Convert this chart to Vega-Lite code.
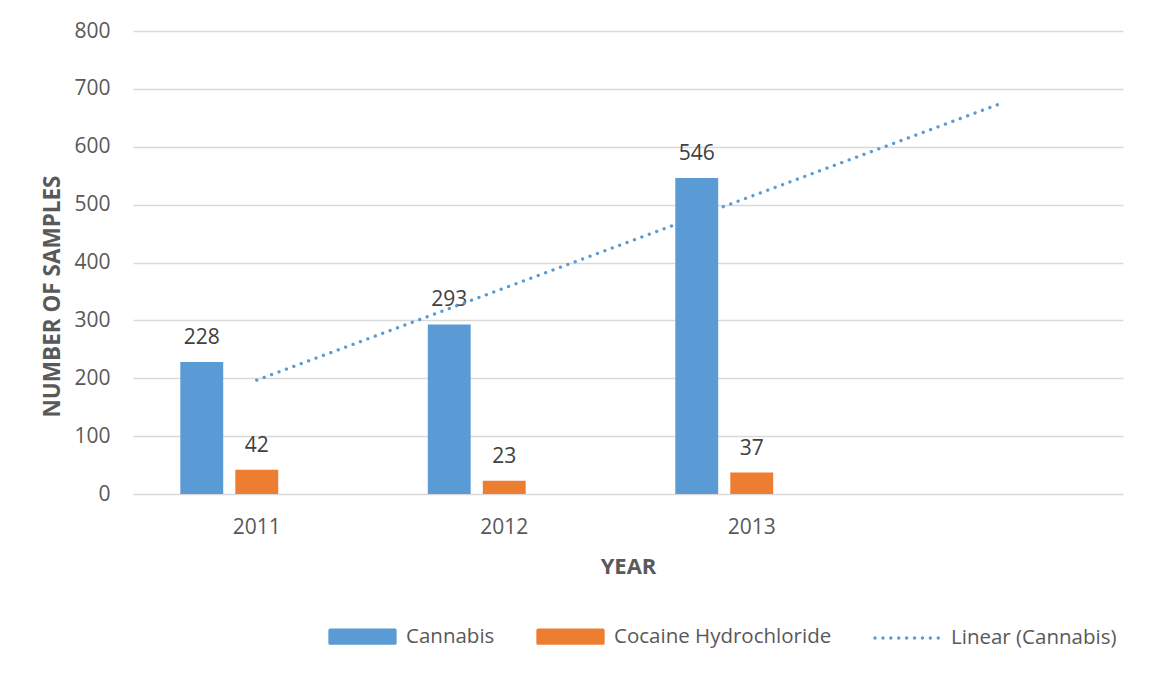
{
  "$schema": "https://vega.github.io/schema/vega-lite/v6.json",
  "width": 990,
  "height": 463,
  "autosize": {"type": "none"},
  "padding": {"left": 133, "top": 31, "right": 28, "bottom": 179},
  "background": "white",
  "config": {"font": "Open Sans", "view": {"stroke": null}},
  "datasets": {
    "bars": [
      {"year": "2011", "series": "Cannabis", "value": 228},
      {"year": "2011", "series": "Cocaine Hydrochloride", "value": 42},
      {"year": "2012", "series": "Cannabis", "value": 293},
      {"year": "2012", "series": "Cocaine Hydrochloride", "value": 23},
      {"year": "2013", "series": "Cannabis", "value": 546},
      {"year": "2013", "series": "Cocaine Hydrochloride", "value": 37}
    ],
    "trend": [
      {"year": "2011", "series": "Linear (Cannabis)", "value": 196.7},
      {"year": " ", "series": "Linear (Cannabis)", "value": 673.7}
    ]
  },
  "layer": [
    {
      "data": {"name": "bars"},
      "mark": {"type": "bar"},
      "encoding": {
        "x": {
          "field": "year", "type": "nominal", "title": "YEAR",
          "scale": {"domain": ["2011", "2012", "2013", " "], "paddingInner": 0.3333, "paddingOuter": 0.1667},
          "axis": {
            "domain": false, "ticks": false, "tickSize": 0, "grid": false,
            "labelPadding": 39, "labelBaseline": "alphabetic", "labelFontSize": 21, "labelColor": "#595959", "labelAngle": 0,
            "titleFontSize": 22, "titleFontWeight": "bold", "titleColor": "#595959", "titleBaseline": "alphabetic", "titleY": 79
          }
        },
        "xOffset": {
          "field": "series", "type": "nominal",
          "scale": {"domain": ["Cannabis", "Cocaine Hydrochloride", "Linear (Cannabis)"], "paddingInner": 0.22, "paddingOuter": 0.11}
        },
        "y": {
          "field": "value", "type": "quantitative", "title": "NUMBER OF SAMPLES",
          "scale": {"domain": [0, 800]},
          "axis": {
            "values": [0, 100, 200, 300, 400, 500, 600, 700, 800],
            "grid": true, "gridColor": "#D9D9D9", "gridWidth": 1.5,
            "domain": false, "ticks": false, "tickSize": 0, "labelPadding": 23,
            "labelFontSize": 21, "labelColor": "#595959",
            "titleFontSize": 22.5, "titleFontWeight": "bold", "titleColor": "#595959",
            "titleAngle": 270, "titleBaseline": "middle", "titleAlign": "center", "titleX": -81, "titleY": 265
          }
        },
        "color": {
          "field": "series", "type": "nominal",
          "scale": {"domain": ["Cannabis", "Cocaine Hydrochloride", "Linear (Cannabis)"], "range": ["#5B9BD5", "#ED7D31", "#5B9BD5"]},
          "legend": {
            "orient": "none", "legendX": 195, "legendY": 571, "direction": "horizontal", "title": null,
            "symbolSize": 4225, "labelFontSize": 20.5, "labelColor": "#595959", "labelOffset": 9, "columnPadding": 36, "labelLimit": 0,
            "encode": {
              "symbols": {
                "update": {
                  "shape": {"signal": "datum.value === 'Linear (Cannabis)' ? 'M-1,0H1' : 'M-1,-0.2H1V0.2H-1Z'"},
                  "fill": {"signal": "datum.value === 'Linear (Cannabis)' ? 'transparent' : (datum.value === 'Cannabis' ? '#5B9BD5' : '#ED7D31')"},
                  "stroke": {"signal": "datum.value === 'Linear (Cannabis)' ? '#5B9BD5' : 'transparent'"},
                  "strokeDash": {"signal": "datum.value === 'Linear (Cannabis)' ? [0.1, 7.8] : [1, 0]"},
                  "strokeWidth": {"value": 3.3},
                  "strokeCap": {"value": "round"},
                  "opacity": {"value": 1}
                }
              }
            }
          }
        }
      }
    },
    {
      "data": {"name": "bars"},
      "mark": {"type": "text", "baseline": "alphabetic", "dy": -18, "fontSize": 21, "color": "#404040"},
      "encoding": {
        "x": {"field": "year", "type": "nominal"},
        "xOffset": {"field": "series", "type": "nominal"},
        "y": {"field": "value", "type": "quantitative"},
        "text": {"field": "value", "type": "quantitative"}
      }
    },
    {
      "data": {"name": "trend"},
      "mark": {"type": "line", "strokeDash": [0.1, 7.8], "strokeCap": "round", "strokeWidth": 3.3},
      "encoding": {
        "x": {"field": "year", "type": "nominal"},
        "y": {"field": "value", "type": "quantitative"},
        "color": {"field": "series", "type": "nominal"}
      }
    }
  ]
}
